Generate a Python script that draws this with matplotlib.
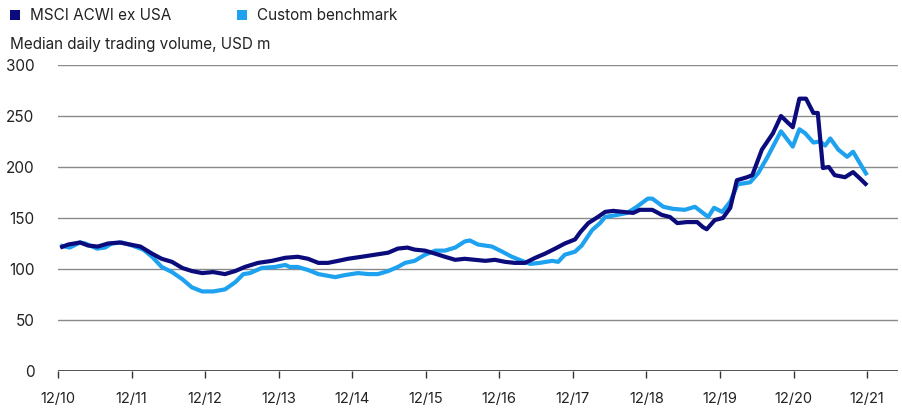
import matplotlib
matplotlib.use("Agg")
import matplotlib.pyplot as plt
from matplotlib.patches import Rectangle

plt.rcParams['font.family'] = ['Inter', 'DejaVu Sans']

# x positions: years after 12/10
msci_t = [0.03, 0.14, 0.30, 0.41, 0.54, 0.68, 0.84, 0.98, 1.12, 1.28, 1.41, 1.55, 1.69, 1.82,
          1.96, 2.11, 2.27, 2.41, 2.54, 2.72, 2.91, 3.09, 3.26, 3.40, 3.54, 3.67, 3.81, 3.94,
          4.13, 4.31, 4.49, 4.62, 4.75, 4.85, 4.99, 5.13, 5.26, 5.40, 5.53, 5.67, 5.81, 5.94,
          6.08, 6.21, 6.35, 6.49, 6.62, 6.76, 6.89, 7.03, 7.10, 7.21, 7.34, 7.44, 7.55, 7.68,
          7.82, 7.91, 8.08, 8.21, 8.32, 8.42, 8.55, 8.69, 8.77, 8.82, 8.93, 9.04, 9.14, 9.23,
          9.37, 9.44, 9.57, 9.72, 9.83, 9.93, 9.99, 10.08, 10.17, 10.27, 10.33, 10.40, 10.48,
          10.56, 10.70, 10.81, 10.90, 11.00]
msci_v = [121, 124, 126, 123, 122, 125, 126, 124, 122, 115, 110, 107, 101, 98,
          96, 97, 95, 98, 102, 106, 108, 111, 112, 110, 106, 106, 108, 110,
          112, 114, 116, 120, 121, 119, 118, 115, 112, 109, 110, 109, 108, 109,
          107, 106, 106, 111, 115, 120, 125, 129, 136, 145, 151, 156, 157, 156,
          155, 158, 158, 153, 151, 145, 146, 146, 141, 139, 148, 150, 160, 187,
          190, 192, 217, 233, 250, 243, 239, 267, 267, 253, 253, 199, 200,
          192, 190, 195, 189, 182]

custom_t = [0.03, 0.16, 0.30, 0.37, 0.53, 0.64, 0.73, 0.87, 1.01, 1.16, 1.28, 1.41, 1.55, 1.69,
            1.82, 1.96, 2.11, 2.27, 2.41, 2.52, 2.61, 2.77, 2.95, 3.09, 3.15, 3.26, 3.40, 3.54,
            3.77, 3.90, 4.08, 4.22, 4.35, 4.49, 4.62, 4.72, 4.85, 4.99, 5.13, 5.26, 5.40, 5.53,
            5.60, 5.71, 5.90, 6.04, 6.17, 6.31, 6.42, 6.55, 6.72, 6.80, 6.89, 7.03, 7.12, 7.26,
            7.37, 7.44, 7.60, 7.74, 7.87, 8.02, 8.08, 8.23, 8.36, 8.52, 8.66, 8.84, 8.92, 9.03,
            9.14, 9.24, 9.41, 9.52, 9.64, 9.83, 9.99, 10.08, 10.16, 10.27, 10.36, 10.43, 10.50,
            10.61, 10.73, 10.81, 10.90, 11.00]
custom_v = [123, 121, 126, 125, 120, 121, 125, 126, 123, 119, 112, 102, 97, 90,
            82, 78, 78, 80, 87, 95, 96, 101, 102, 104, 102, 102, 99, 95,
            92, 94, 96, 95, 95, 98, 102, 106, 108, 114, 118, 118, 121, 127,
            128, 124, 122, 117, 112, 108, 105, 106, 108, 107, 114, 117, 123, 138,
            145, 151, 153, 155, 161, 169, 169, 161, 159, 158, 161, 151, 160, 156,
            166, 183, 185, 194, 209, 235, 220, 237, 233, 224, 225, 221, 228,
            217, 210, 215, 204, 192]

series_names = ['MSCI ACWI ex USA', 'Custom benchmark']
yticks = [0, 50, 100, 150, 200, 250, 300]
xtick_labels = ['12/10', '12/11', '12/12', '12/13', '12/14', '12/15',
                '12/16', '12/17', '12/18', '12/19', '12/20', '12/21']

DARK = '#0b0b7c'
LIGHT = '#1ea2f0'
TEXT = '#222222'

fig = plt.figure(figsize=(9.02, 4.09), dpi=100)
ax = fig.add_axes([58/902, 1 - 371/409, 840/902, 306/409])

for y in yticks[1:]:
    ax.axhline(y, color='#8a8a8a', lw=1.0, zorder=1)
ax.axhline(0, color='#333333', lw=1.2, zorder=1)

ax.plot(custom_t, custom_v, color=LIGHT, lw=3.0, solid_joinstyle='round', solid_capstyle='butt', zorder=3)
ax.plot(msci_t, msci_v, color=DARK, lw=3.0, solid_joinstyle='round', solid_capstyle='butt', zorder=4)

ax.set_xlim(0, 840/73.55)
ax.set_ylim(0, 300)
for s in ax.spines.values():
    s.set_visible(False)

ax.set_yticks(yticks)
ax.set_yticklabels([str(v) for v in yticks])
ax.tick_params(axis='y', length=0, pad=17, labelsize=11, labelcolor=TEXT)
ax.set_xticks(range(len(xtick_labels)))
ax.set_xticklabels(xtick_labels)
ax.tick_params(axis='x', length=5, width=1, color='#333333', pad=10, labelsize=10.5,
               labelcolor=TEXT)

fig.text(10/902, 1 - 44/409, 'Median daily trading volume, USD m', fontsize=11,
         color=TEXT, va='center', ha='left')

# legend (manual)
W, H = 902, 409
for (sx, tx), name, col in zip([(10, 30), (237, 257)], series_names, [DARK, LIGHT]):
    fig.patches.append(Rectangle((sx / W, 1 - 20 / H), 10 / W, 10 / H,
                                 transform=fig.transFigure, facecolor=col, edgecolor='none'))
    fig.text(tx / W, 1 - 15 / H, name, fontsize=11, color=TEXT, va='center', ha='left')

fig.savefig('out.png', dpi=100)
